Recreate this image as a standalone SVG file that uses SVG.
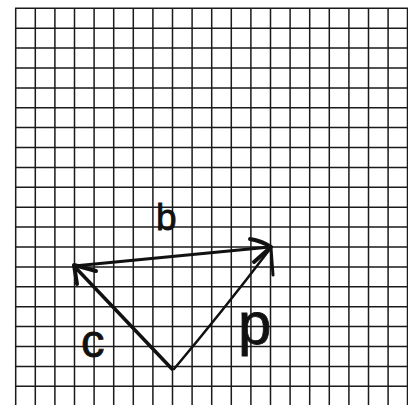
<svg xmlns="http://www.w3.org/2000/svg" width="408" height="405" viewBox="0 0 408 405">
  <style>
    .grid { stroke: #1a1a1a; stroke-width: 1.5; fill: none; }
    .vec { stroke: #111; fill: none; stroke-linecap: round; stroke-linejoin: round; }
    .lbl { font-family: "Liberation Sans", Arial, sans-serif; fill: #111; stroke: #111; stroke-width: 0.8; }
  </style>
  <rect width="408" height="405" fill="#fff"/>
  <g id="grid" class="grid">
    <path d="M15.7,8 V405 M35.3,8 V405 M54.9,8 V405 M74.5,8 V405 M94.1,8 V405 M113.7,8 V405 M133.3,8 V405 M152.9,8 V405 M172.5,8 V405 M192.1,8 V405 M211.7,8 V405 M231.3,8 V405 M250.9,8 V405 M270.5,8 V405 M290.1,8 V405 M309.7,8 V405 M329.3,8 V405 M348.9,8 V405 M368.5,8 V405 M388.1,8 V405 M407.5,8 V405"/>
    <path d="M15,8.3 H408 M15,28.2 H408 M15,48.1 H408 M15,68 H408 M15,87.9 H408 M15,107.8 H408 M15,127.6 H408 M15,147.5 H408 M15,167.4 H408 M15,187.3 H408 M15,207.2 H408 M15,227.1 H408 M15,247 H408 M15,266.9 H408 M15,286.8 H408 M15,306.7 H408 M15,326.6 H408 M15,346.5 H408 M15,366.4 H408 M15,386.3 H408"/>
  </g>
  <g id="connectors">
    <g id="vector-b">
      <path class="vec" stroke-width="3" d="M74,266 L270,247"/>
      <path class="vec" stroke-width="4" d="M250,239 Q262,241 271,247 L254,262"/>
    </g>
    <g id="vector-c">
      <path class="vec" stroke-width="3.5" d="M172,369 L74,266"/>
      <path class="vec" stroke-width="4" d="M96,271 L74,265 L77,284"/>
    </g>
    <g id="vector-p">
      <path class="vec" stroke-width="2.5" d="M174,369 Q222,312 270,249"/>
      <path class="vec" stroke-width="3" d="M271,248 L273,275"/>
    </g>
  </g>
  <g id="label-b"><text class="lbl" x="156" y="230" font-size="37">b</text></g>
  <g id="label-c"><text class="lbl" x="81" y="357" font-size="47">c</text></g>
  <g id="label-p"><text class="lbl" x="238" y="344" font-size="60">p</text></g>
</svg>
